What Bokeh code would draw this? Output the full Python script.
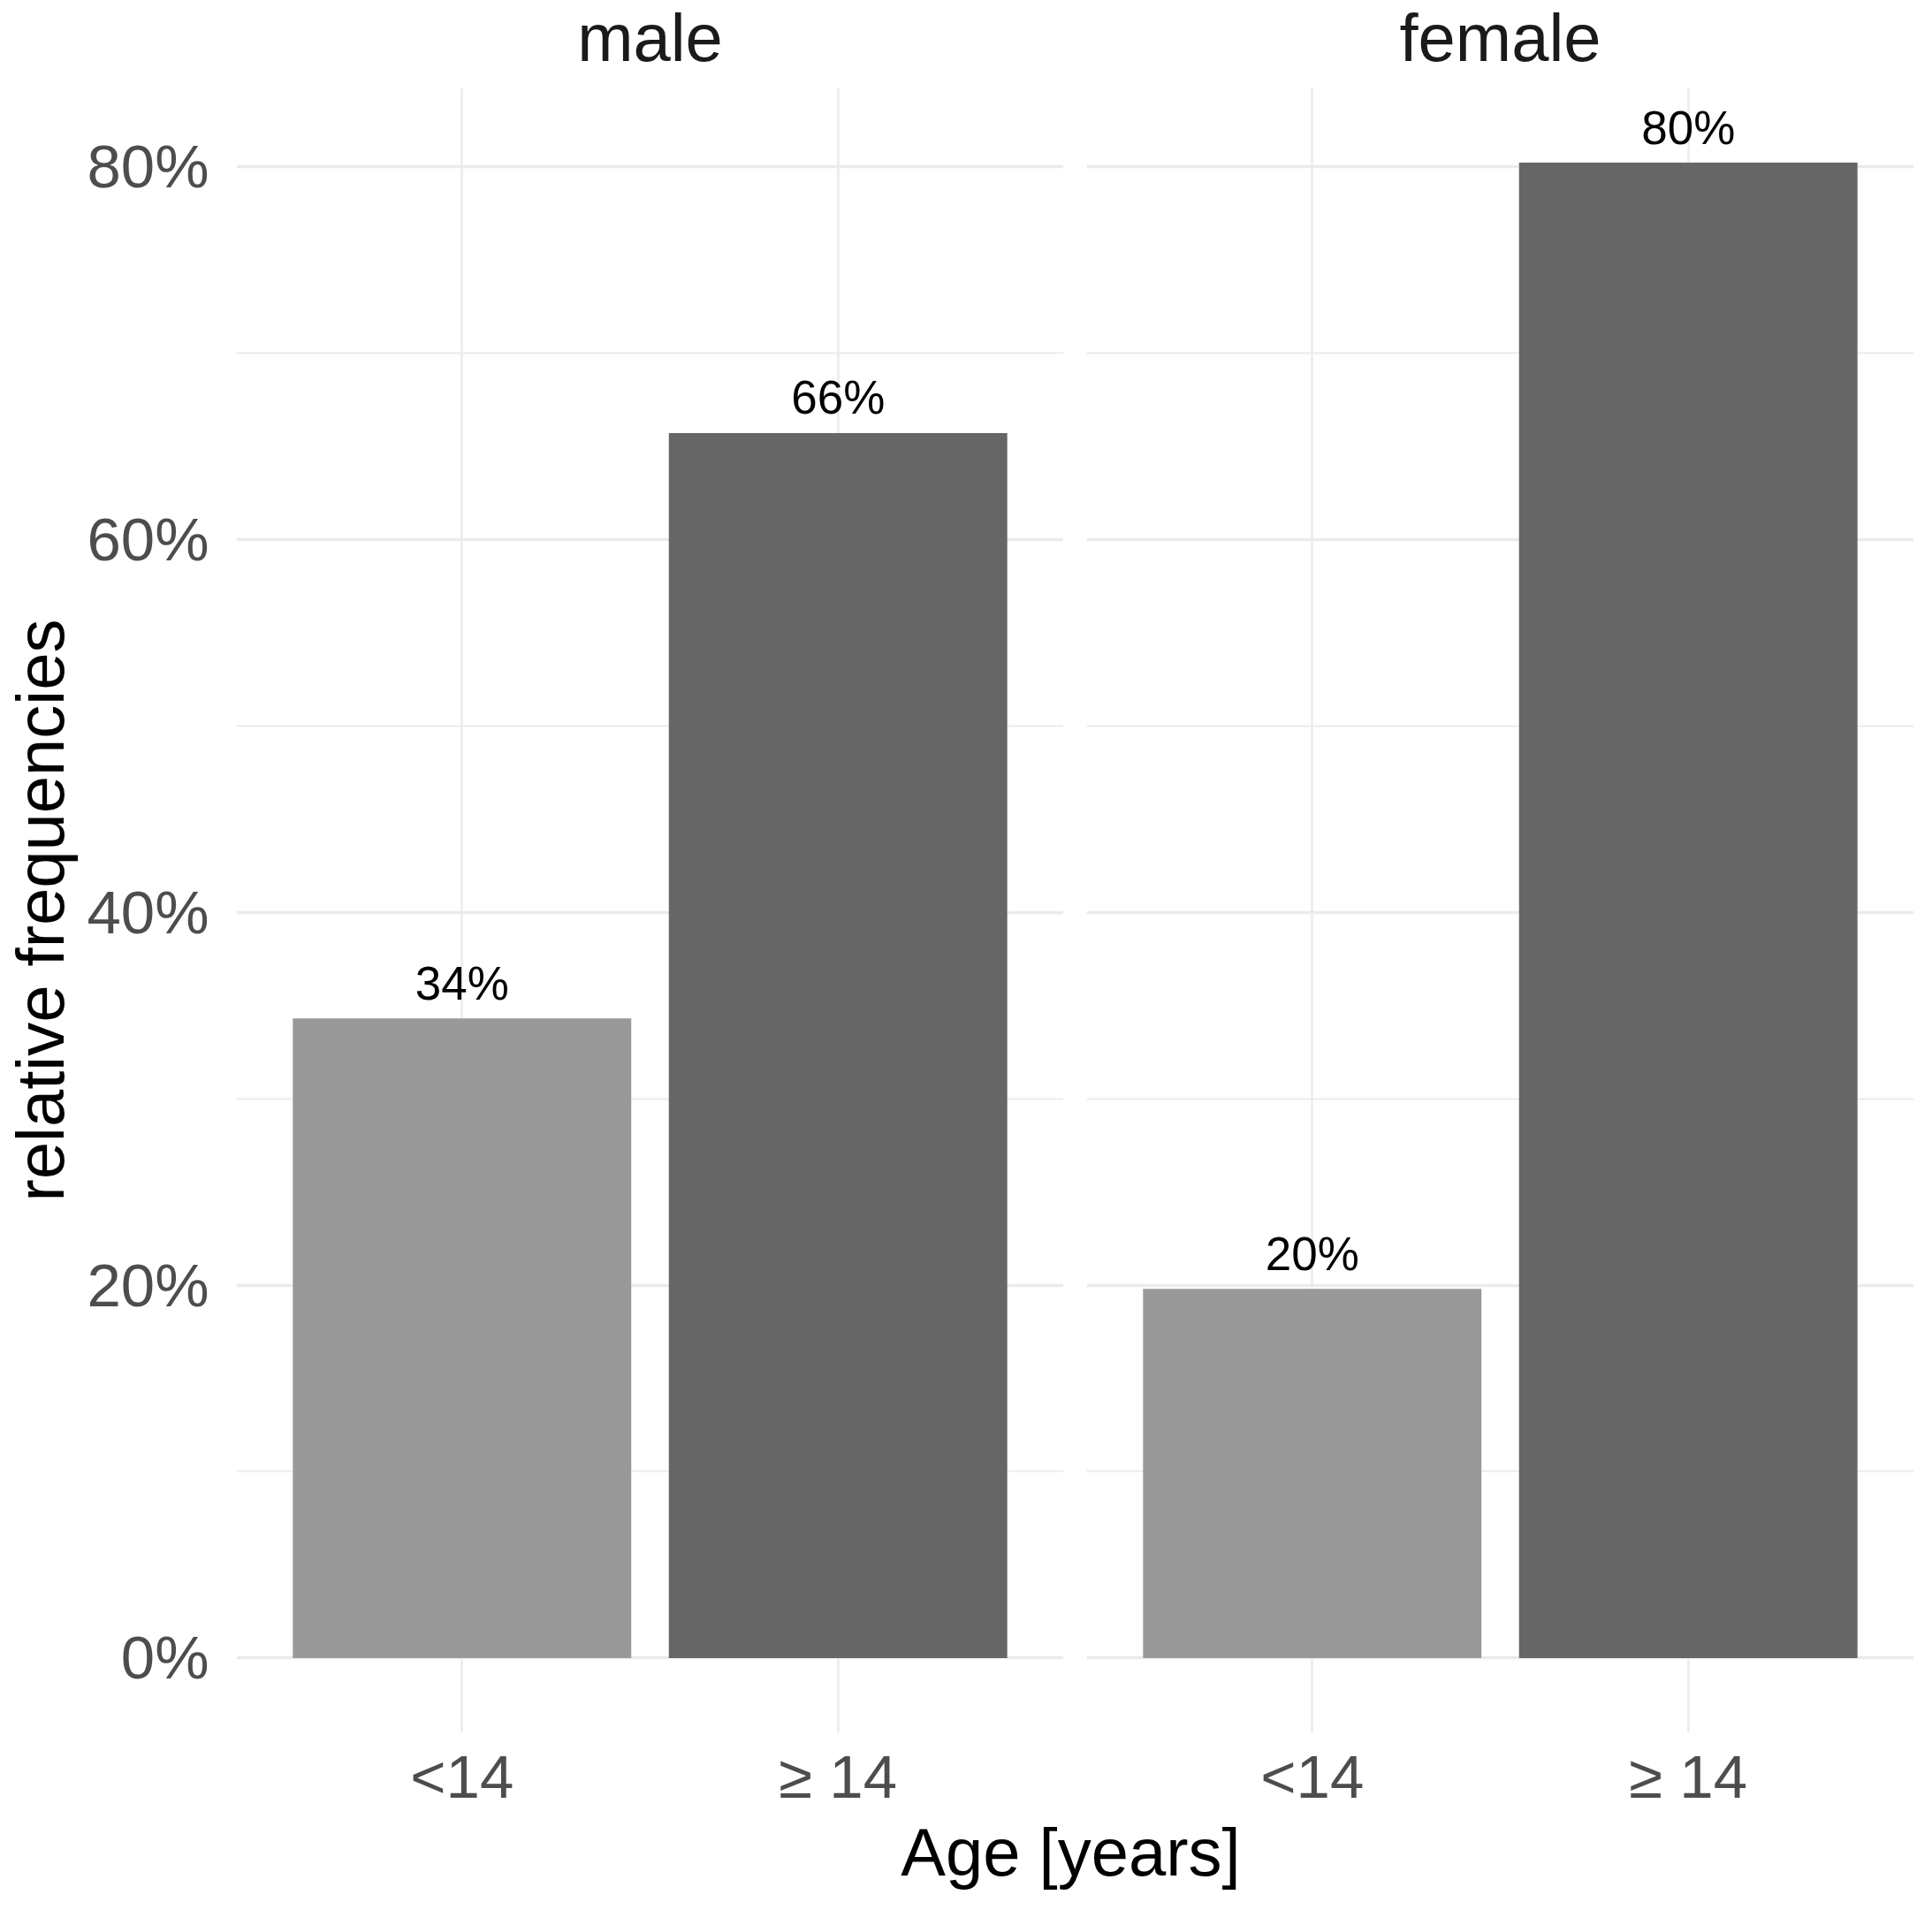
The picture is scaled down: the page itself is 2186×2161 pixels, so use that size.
from bokeh.plotting import figure
from bokeh.models import FactorRange, Range1d, FixedTicker, NumeralTickFormatter, ColumnDataSource
from bokeh.layouts import row, column
from bokeh.embed import file_html
from bokeh.resources import INLINE

# ---- data ----
panels = ["male", "female"]
age_groups = ["<14", "\u2265 14"]
male_values = [0.343, 0.657]
female_values = [0.198, 0.802]
bar_colors = ["#999999", "#666666"]
y_ticks = [0.0, 0.2, 0.4, 0.6, 0.8]
y_minor_ticks = [0.1, 0.3, 0.5, 0.7]

FONT = "Liberation Sans"
all_vals = male_values + female_values
ymax = max(all_vals)
y_lo, y_hi = -0.05 * ymax, 1.05 * ymax

FRAME_W = 936
FRAME_H = 1861
HEADER_H = 99
BOTTOM = 40
LEFT = 262
GAP = 26


def make_header(title, first):
    h = figure(
        x_range=Range1d(0, 1), y_range=Range1d(0, 1),
        frame_width=FRAME_W, frame_height=HEADER_H,
        min_border_left=LEFT if first else GAP, min_border_right=0 if first else 8,
        min_border_top=0, min_border_bottom=0,
        x_axis_location=None, y_axis_location=None,
        output_backend="svg", toolbar_location=None, tools="",
    )
    h.outline_line_color = None
    h.grid.visible = False
    h.border_fill_color = "white"
    h.text(x=[0.5], y=[0], text=[title], text_align="center", text_baseline="alphabetic",
           x_offset=5, y_offset=-57, text_font={"value": FONT}, text_font_size="76px",
           text_color="#1A1A1A")
    return h


def make_panel(values, first):
    p = figure(
        x_range=FactorRange(factors=age_groups, range_padding=0.1, range_padding_units="absolute"),
        y_range=Range1d(y_lo, y_hi),
        frame_width=FRAME_W, frame_height=FRAME_H,
        min_border_left=LEFT if first else GAP, min_border_right=0 if first else 8,
        min_border_top=0, min_border_bottom=BOTTOM,
        output_backend="svg", toolbar_location=None, tools="",
    )
    p.outline_line_color = None
    p.background_fill_color = "white"
    p.border_fill_color = "white"

    src = ColumnDataSource(dict(
        x=age_groups, top=values, color=bar_colors,
        label=[f"{round(v * 100)}%" for v in values],
    ))
    p.vbar(x="x", top="top", bottom=0, width=0.9, fill_color="color", line_color=None, source=src)
    p.text(x="x", y="top", text="label", source=src, text_align="center",
           text_baseline="alphabetic", y_offset=-40, text_font_size="53px",
           text_color="black", text_font={"value": FONT})

    # y axis / grids
    p.yaxis.ticker = FixedTicker(ticks=y_ticks, minor_ticks=y_minor_ticks)
    p.yaxis.formatter = NumeralTickFormatter(format="0%")
    p.ygrid.grid_line_color = "#EBEBEB"
    p.ygrid.grid_line_width = 3.5
    p.ygrid.minor_grid_line_color = "#EBEBEB"
    p.ygrid.minor_grid_line_width = 2.2
    p.xgrid.grid_line_color = "#EBEBEB"
    p.xgrid.grid_line_width = 2.5

    for ax in (p.xaxis[0], p.yaxis[0]):
        ax.axis_line_color = None
        ax.major_tick_line_color = None
        ax.minor_tick_line_color = None
        ax.major_tick_in = 0
        ax.major_tick_out = 0
        ax.minor_tick_in = 0
        ax.minor_tick_out = 0
        ax.major_label_text_font = FONT
        ax.major_label_text_font_size = "69px"
        ax.major_label_text_color = "#4D4D4D"
        ax.axis_label_text_font = FONT
        ax.axis_label_text_font_size = "76px"
        ax.axis_label_text_font_style = "normal"
        ax.axis_label_text_color = "black"

    p.xaxis.major_label_standoff = 11
    p.yaxis.major_label_standoff = 31
    if first:
        p.yaxis.axis_label = "relative frequencies"
        p.yaxis.axis_label_standoff = 7
    else:
        p.yaxis.visible = False
    return p


h1 = make_header(panels[0], True)
h2 = make_header(panels[1], False)
p1 = make_panel(male_values, True)
p2 = make_panel(female_values, False)

# shared x-axis title under both panels
p3 = figure(
    x_range=Range1d(0, 1), y_range=Range1d(0, 1),
    frame_width=FRAME_W * 2 + GAP, frame_height=1,
    min_border_left=LEFT, min_border_right=8, min_border_top=0, min_border_bottom=0,
    output_backend="svg", toolbar_location=None, tools="",
)
p3.outline_line_color = None
p3.yaxis.visible = False
p3.grid.visible = False
ax = p3.xaxis[0]
ax.ticker = FixedTicker(ticks=[])
ax.axis_line_color = None
ax.major_tick_line_color = None
ax.minor_tick_line_color = None
ax.major_tick_out = 0
ax.major_label_text_font_size = "0px"
ax.major_label_standoff = 0
ax.axis_label = "Age [years]"
ax.axis_label_text_font = FONT
ax.axis_label_text_font_size = "76px"
ax.axis_label_text_font_style = "normal"
ax.axis_label_text_color = "black"
ax.axis_label_standoff = 0

layout = column(row(h1, h2), row(p1, p2), p3)

open("out.html", "w").write(file_html(layout, INLINE))
